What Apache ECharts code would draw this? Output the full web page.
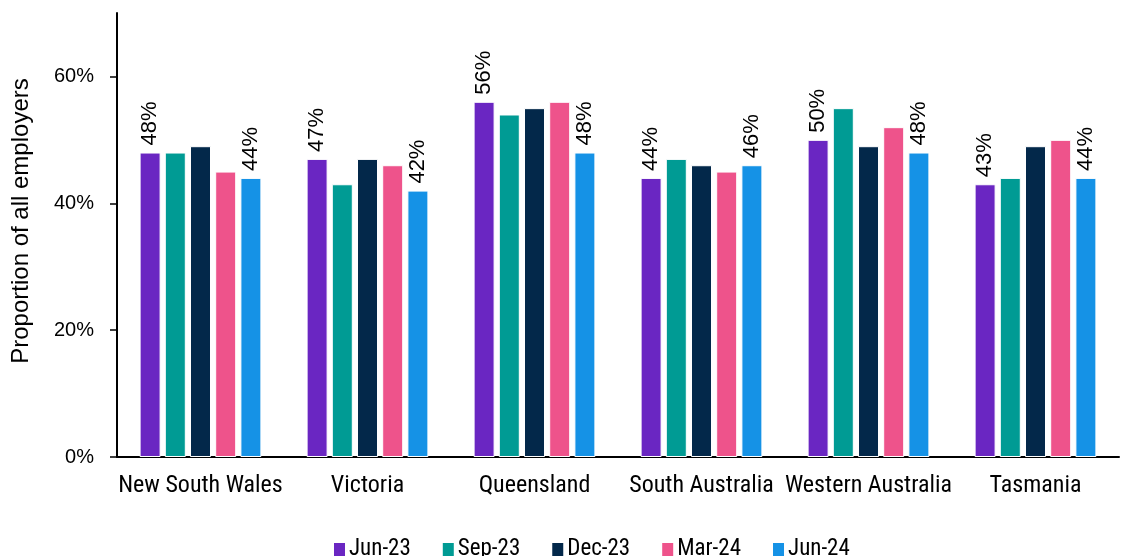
<!DOCTYPE html>
<html>
<head>
<meta charset="utf-8">
<script src="https://cdn.jsdelivr.net/npm/echarts@6/dist/echarts.min.js"></script>
<style>
  html, body { margin: 0; padding: 0; background: #fff; }
  #chart { width: 1123px; height: 556px; }
</style>
</head>
<body>
<div id="chart"></div>
<script>
const states = ['New South Wales', 'Victoria', 'Queensland', 'South Australia', 'Western Australia', 'Tasmania']
const periods = ['Jun-23', 'Sep-23', 'Dec-23', 'Mar-24', 'Jun-24']

const jun23 = [48, 47, 56, 44, 50, 43]
const sep23 = [48, 43, 54, 47, 55, 44]
const dec23 = [49, 47, 55, 46, 49, 49]
const mar24 = [45, 46, 56, 45, 52, 50]
const jun24 = [44, 42, 48, 46, 48, 44]

const yTicks = [0, 20, 40, 60]

const COLORS = ['#6a26c2', '#009b94', '#03284a', '#ee538b', '#1592e6']
const NARROW = "'Liberation Sans Narrow', 'Arial Narrow', 'Roboto Condensed', 'Liberation Sans', sans-serif"
const SANS = "'Liberation Sans', Arial, sans-serif"

// only the first and last period carry value labels
const labelled = { 'Jun-23': true, 'Jun-24': true }

const seriesData = [jun23, sep23, dec23, mar24, jun24]

const series = periods.map((name, i) => ({
  name,
  type: 'bar',
  data: seriesData[i],
  barWidth: 21,
  barGap: '20%',
  itemStyle: { color: COLORS[i], borderColor: '#fff', borderWidth: 1 },
  label: {
    show: !!labelled[name],
    position: 'top',
    rotate: 90,
    align: 'left',
    verticalAlign: 'middle',
    distance: 7,
    fontFamily: SANS,
    fontSize: 22,
    color: '#000',
    formatter: p => p.value + '%'
  }
}))

const chart = echarts.init(document.getElementById('chart'))
chart.setOption({
  animation: false,
  color: COLORS,
  grid: { left: 117, right: 4, top: 13, bottom: 99, outerBoundsMode: 'none' },
  legend: {
    bottom: -10,
    left: 327,
    icon: 'rect',
    itemWidth: 13,
    itemHeight: 15,
    itemGap: 30,
    textStyle: { fontFamily: NARROW, fontSize: 23, color: '#000', padding: [0, 0, 0, -2] },
    data: periods
  },
  xAxis: {
    type: 'category',
    data: states,
    axisLine: { lineStyle: { color: '#000', width: 2 } },
    axisTick: { show: false },
    axisLabel: { fontFamily: NARROW, fontSize: 24, color: '#000', margin: 17, interval: 0 }
  },
  yAxis: {
    type: 'value',
    min: 0,
    max: 70,
    interval: 20,
    name: 'Proportion of all employers',
    nameLocation: 'middle',
    nameGap: 84,
    nameTextStyle: { fontFamily: SANS, fontSize: 24, color: '#000', padding: [0, 0, 0, 28] },
    splitLine: { show: false },
    axisLine: { show: true, lineStyle: { color: '#000', width: 2 } },
    axisTick: { show: true, length: 7, lineStyle: { color: '#000', width: 1.5 }, customValues: yTicks },
    axisLabel: {
      fontFamily: SANS, fontSize: 20, color: '#000', margin: 23,
      customValues: yTicks,
      formatter: v => v + '%'
    }
  },
  series
})
</script>
</body>
</html>
